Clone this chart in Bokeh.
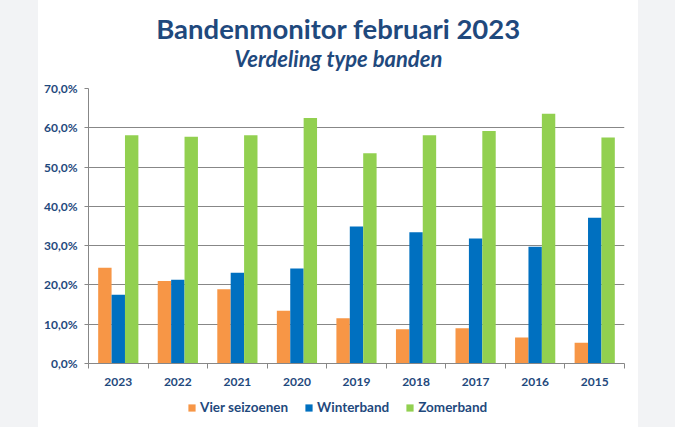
from bokeh.plotting import figure
from bokeh.models import FixedTicker, Legend, LegendItem, Label, Spacer, ColumnDataSource, Range1d
from bokeh.layouts import row, column
from bokeh.embed import file_html
from bokeh.resources import INLINE

years = ["2023", "2022", "2021", "2020", "2019", "2018", "2017", "2016", "2015"]
vier_seizoenen = [24.4, 21.0, 18.9, 13.4, 11.5, 8.7, 9.0, 6.6, 5.3]
winterband = [17.5, 21.3, 23.1, 24.2, 34.9, 33.4, 31.8, 29.7, 37.1]
zomerband = [58.1, 57.7, 58.1, 62.5, 53.5, 58.1, 59.2, 63.6, 57.5]
series_names = ["Vier seizoenen", "Winterband", "Zomerband"]
y_ticks = [0, 10, 20, 30, 40, 50, 60, 70]
y_tick_labels = ["0,0%", "10,0%", "20,0%", "30,0%", "40,0%", "50,0%", "60,0%", "70,0%"]
title_text = "Bandenmonitor februari 2023"
subtitle_text = "Verdeling type banden"

colors = ["#F79646", "#0070C0", "#92D050"]
text_color = "#1F497D"
grid_color = "#878787"
side_gray = "#F2F3F5"
font = "Lato"

W = 600
TH, MH, LH = 80, 313, 34
BL, BR = 50, 14  # main plot borders (frames in the column are aligned to these)


def bare_figure(h):
    f = figure(width=W, height=h, x_range=Range1d(BL, W - BR), y_range=Range1d(0, h),
               output_backend="svg", toolbar_location=None, title=None,
               x_axis_location=None, y_axis_location=None,
               min_border_left=BL, min_border_right=BR,
               min_border_top=0, min_border_bottom=0,
               background_fill_color="white", border_fill_color="white")
    f.outline_line_color = None
    f.xgrid.visible = False
    f.ygrid.visible = False
    return f


# ---- title block
pt = bare_figure(TH)
pt.add_layout(Label(x=W / 2, y=TH - 28, text=title_text, text_font=font,
                    text_font_style="bold", text_font_size="27.5px", text_color=text_color,
                    text_align="center", text_baseline="middle"))
pt.add_layout(Label(x=W / 2, y=TH - 58, text=subtitle_text, text_font=font,
                    text_font_style="bold italic", text_font_size="22px", text_color=text_color,
                    text_align="center", text_baseline="middle"))

# ---- main chart
p = figure(width=W, height=MH, x_range=(0, 9), y_range=(0, 70),
           output_backend="svg", toolbar_location=None, title=None,
           min_border_left=BL, min_border_right=BR, min_border_top=8, min_border_bottom=30,
           background_fill_color="white", border_fill_color="white")
p.outline_line_color = None

centers = [i + 0.5 for i in range(len(years))]
bw = 0.225
offsets = [-bw, 0.0, bw]
for vals, off, col in zip([vier_seizoenen, winterband, zomerband], offsets, colors):
    src = ColumnDataSource(dict(x=[c + off for c in centers], top=vals))
    p.vbar(x="x", top="top", width=bw, bottom=0, source=src,
           fill_color=col, line_color=None)

p.yaxis.ticker = FixedTicker(ticks=y_ticks)
p.yaxis.major_label_overrides = {t: l for t, l in zip(y_ticks, y_tick_labels)}
p.yaxis.major_label_text_font = font
p.yaxis.major_label_text_font_style = "bold"
p.yaxis.major_label_text_font_size = "12px"
p.yaxis.major_label_text_color = text_color
p.yaxis.axis_line_color = grid_color
p.yaxis.major_tick_line_color = grid_color
p.yaxis.major_tick_out = 4
p.yaxis.major_tick_in = 0
p.yaxis.minor_tick_line_color = None
p.yaxis.major_label_standoff = 7
p.ygrid.grid_line_color = grid_color
p.ygrid.ticker = FixedTicker(ticks=y_ticks)

p.xaxis.ticker = FixedTicker(ticks=centers, minor_ticks=list(range(len(years) + 1)))
p.xaxis.major_label_overrides = {c: y for c, y in zip(centers, years)}
p.xaxis.major_label_text_font = font
p.xaxis.major_label_text_font_style = "bold"
p.xaxis.major_label_text_font_size = "12px"
p.xaxis.major_label_text_color = text_color
p.xaxis.axis_line_color = grid_color
p.xaxis.major_tick_line_color = None
p.xaxis.major_tick_out = 0
p.xaxis.major_tick_in = 0
p.xaxis.minor_tick_line_color = grid_color
p.xaxis.minor_tick_out = 5
p.xaxis.minor_tick_in = 0
p.xaxis.major_label_standoff = 9
p.xgrid.grid_line_color = None

# ---- legend block (swatch renderers sit far outside the visible ranges)
pl = bare_figure(LH)
leg_renderers = [pl.vbar(x=[-1000], top=[-1000], bottom=-1001, width=1, fill_color=c, line_color=None)
                 for c in colors]
legend = Legend(items=[LegendItem(label=n, renderers=[r]) for n, r in zip(series_names, leg_renderers)],
                orientation="horizontal", location=(99, 12), padding=0, margin=0,
                spacing=16, label_standoff=4, glyph_width=9, glyph_height=9,
                label_text_font=font, label_text_font_style="bold", label_text_font_size="13.5px",
                label_text_color=text_color, border_line_color=None, background_fill_alpha=0,
                label_height=16)
pl.add_layout(legend, "center")

left = Spacer(width=38, height=TH + MH + LH, styles={"background-color": side_gray})
right = Spacer(width=37, height=TH + MH + LH, styles={"background-color": side_gray})
layout = row(left, column(pt, p, pl, spacing=0), right, spacing=0)

open("out.html", "w").write(file_html(layout, INLINE))
